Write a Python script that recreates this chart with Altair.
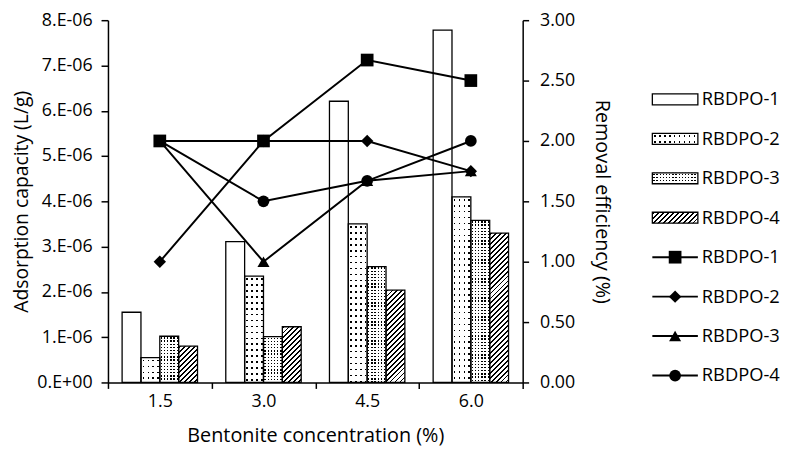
import altair as alt
import pandas as pd

FONT = "Open Sans"

# ---------------- data ----------------
concentrations = ["1.5", "3.0", "4.5", "6.0"]
series_names = ["RBDPO-1", "RBDPO-2", "RBDPO-3", "RBDPO-4"]

# adsorption capacity (L/g), bars, left axis
capacity_rbdpo1 = [1.55e-06, 3.11e-06, 6.21e-06, 7.78e-06]
capacity_rbdpo2 = [0.55e-06, 2.35e-06, 3.50e-06, 4.10e-06]
capacity_rbdpo3 = [1.02e-06, 1.01e-06, 2.56e-06, 3.58e-06]
capacity_rbdpo4 = [0.80e-06, 1.23e-06, 2.04e-06, 3.30e-06]

# removal efficiency (%), lines, right axis
efficiency_rbdpo1 = [2.00, 2.00, 2.67, 2.50]
efficiency_rbdpo2 = [1.00, 2.00, 2.00, 1.75]
efficiency_rbdpo3 = [2.00, 1.00, 1.67, 1.75]
efficiency_rbdpo4 = [2.00, 1.50, 1.67, 2.00]

left_tick_values = [0.0, 1e-06, 2e-06, 3e-06, 4e-06, 5e-06, 6e-06, 7e-06, 8e-06]
right_tick_values = [0.0, 0.5, 1.0, 1.5, 2.0, 2.5, 3.0]
legend_labels = ["RBDPO-1", "RBDPO-2", "RBDPO-3", "RBDPO-4",
                 "RBDPO-1", "RBDPO-2", "RBDPO-3", "RBDPO-4"]
legend_kinds = ["bar", "bar", "bar", "bar", "line", "line", "line", "line"]
line_draw_order = ["RBDPO-2", "RBDPO-3", "RBDPO-4", "RBDPO-1"]

# ---------------- styling / layout ----------------
marker_shapes = ["square", "diamond", "triangle-up", "circle"]
marker_sizes = [165, 140, 150, 145]
PLOT_W = 419
PLOT_H = 366
TOP = 10
Y_MAX = 8e-06
Y2_MAX = 3.0
X_OUTER = 0.75
BAR_W = PLOT_W / 4 / (4 + 2 * X_OUTER)
SWATCH_PATH = "M-1,-0.24L1,-0.24L1,0.24L-1,0.24Z"
SWATCH_SIZE = 2116
SWATCH_W = 46.0
SWATCH_H = 46.0 * 0.24
CLEAR = "rgba(255,255,255,0)"

# pattern settings: (column period, dot size, row period)
DOTS = {"RBDPO-2": (5.0, 1.7, 6.0), "RBDPO-3": (3.2, 1.35, 3.2)}
HATCH_PERIOD = 5.0
HATCH_THICK = 1.9


def stripes(length, period, thick, on, off, phase):
    stops = [{"offset": 0.0, "color": off}]
    k = 0
    while True:
        s = phase + k * period
        if s >= length:
            break
        e = s + thick
        s0 = max(s, 0.0)
        e0 = min(e, length)
        if e0 > s0:
            a = round(s0 / length, 5)
            b = round(e0 / length, 5)
            stops += [{"offset": a, "color": off}, {"offset": a, "color": on},
                      {"offset": b, "color": on}, {"offset": b, "color": off}]
        k += 1
    stops.append({"offset": 1.0, "color": off})
    return stops


def column_grad(width, period, dot):
    return {"gradient": "linear", "x1": 0, "y1": 0, "x2": 1, "y2": 0,
            "stops": stripes(width, period, dot, "black", "rgba(0,0,0,0)", (period - dot) / 2)}


def row_grad(height, period, dot):
    return {"gradient": "linear", "x1": 0, "y1": 0, "x2": 0, "y2": 1,
            "stops": stripes(height, period, dot, CLEAR, "white", (period - dot) / 2)}


def hatch_grad(width, height):
    k = (width + height) / (width ** 2 + height ** 2)
    return {"gradient": "linear", "x1": 0, "y1": 0, "x2": k * width, "y2": k * height,
            "stops": stripes(width + height, HATCH_PERIOD, HATCH_THICK, "black", "white", 1.0)}


# ---------------- tables ----------------
caps = [capacity_rbdpo1, capacity_rbdpo2, capacity_rbdpo3, capacity_rbdpo4]
effs = dict(zip(series_names, [efficiency_rbdpo1, efficiency_rbdpo2,
                               efficiency_rbdpo3, efficiency_rbdpo4]))
bars_df = pd.DataFrame([{"conc": c, "series": s, "cap": v}
                        for s, vals in zip(series_names, caps)
                        for c, v in zip(concentrations, vals)])
lines_df = pd.DataFrame([{"conc": c, "series": s, "eff": v}
                         for s in line_draw_order
                         for c, v in zip(concentrations, effs[s])])
legend_df = pd.DataFrame({"pos": list(range(len(legend_labels))),
                          "label": legend_labels, "kind": legend_kinds,
                          "series": legend_labels})

# ---------------- encodings ----------------
x_enc = alt.X("conc:N", sort=concentrations,
              scale=alt.Scale(domain=concentrations, paddingInner=0, paddingOuter=0),
              axis=alt.Axis(title="Bentonite concentration (%)", labelAngle=0,
                            tickBand="extent", tickSize=6, labelPadding=4,
                            titlePadding=16, labelFontSize=18, titleFontSize=20))
xo_enc = alt.XOffset("series:N", sort=series_names,
                     scale=alt.Scale(domain=series_names, paddingInner=0, paddingOuter=X_OUTER))
y_enc = alt.Y("cap:Q", scale=alt.Scale(domain=[0, Y_MAX], nice=False),
              axis=alt.Axis(orient="left", values=left_tick_values, title="Adsorption capacity (L/g)",
                            labelExpr="datum.value == 0 ? '0.E+00' : format(datum.value * 1000000, '.0f') + '.E-06'",
                            tickSize=7, labelPadding=9, titlePadding=5,
                            labelFontSize=18, titleFontSize=19.5))
y2_enc = alt.Y("eff:Q", scale=alt.Scale(domain=[0, Y2_MAX], nice=False),
               axis=alt.Axis(orient="right", values=right_tick_values, format=".2f",
                             title="Removal efficiency (%)", titleAngle=90,
                             tickSize=6, labelPadding=11, titlePadding=17,
                             labelFontSize=18, titleFontSize=20))
shape_enc = alt.Shape("series:N", scale=alt.Scale(domain=series_names, range=marker_shapes), legend=None)
size_enc = alt.Size("series:N", scale=alt.Scale(domain=series_names, range=marker_sizes), legend=None)


def bar_layer(data_filter, **mark):
    ch = alt.Chart(bars_df)
    if data_filter is not None:
        ch = ch.transform_filter(data_filter)
    return ch.mark_bar(**mark).encode(x=x_enc, xOffset=xo_enc, y=y_enc)


bar_layers = [bar_layer(None, fill="white")]
for s, (cp, dot, rp) in DOTS.items():
    bar_layers.append(bar_layer(alt.datum.series == s, fill=column_grad(BAR_W, cp, dot)))
    vals = caps[series_names.index(s)]
    for c, v in zip(concentrations, vals):
        h = v / Y_MAX * PLOT_H
        bar_layers.append(bar_layer((alt.datum.series == s) & (alt.datum.conc == c),
                                    fill=row_grad(h, rp, dot)))
for c, v in zip(concentrations, capacity_rbdpo4):
    h = v / Y_MAX * PLOT_H
    bar_layers.append(bar_layer((alt.datum.series == "RBDPO-4") & (alt.datum.conc == c),
                                fill=hatch_grad(BAR_W, h)))
bar_layers.append(bar_layer(None, fillOpacity=0, stroke="black", strokeWidth=1.3))
bars_group = alt.layer(*bar_layers)

lines = alt.Chart(lines_df).mark_line(color="black", strokeWidth=2).encode(
    x=x_enc, y=y2_enc, detail="series:N")
points = alt.Chart(lines_df).mark_point(filled=True, opacity=1, color="black").encode(
    x=x_enc, y=y2_enc, shape=shape_enc, size=size_enc)
lines_group = alt.layer(lines, points)

# ---------------- legend (drawn as marks) ----------------
ly = alt.Y("pos:Q", scale=alt.Scale(domain=[0, 7], range=[98 - 8 - TOP, 377 - 8 - TOP]), axis=None)
LX = 573


def swatch(data_filter, **mark):
    base = dict(shape=SWATCH_PATH, size=SWATCH_SIZE, opacity=1)
    base.update(mark)
    return (alt.Chart(legend_df).transform_filter(data_filter)
            .mark_point(**base).encode(x=alt.value(LX), y=ly))


is_bar = alt.datum.kind == "bar"
legend_layers = [swatch(is_bar, filled=True, fill="white", strokeOpacity=0)]
for s, (cp, dot, rp) in DOTS.items():
    f = is_bar & (alt.datum.series == s)
    legend_layers.append(swatch(f, filled=True, fill=column_grad(SWATCH_W, cp, dot), strokeOpacity=0))
    legend_layers.append(swatch(f, filled=True, fill=row_grad(SWATCH_H, rp, dot), strokeOpacity=0))
legend_layers.append(swatch(is_bar & (alt.datum.series == "RBDPO-4"), filled=True,
                            fill=hatch_grad(SWATCH_W, SWATCH_H), strokeOpacity=0))
legend_layers.append(swatch(is_bar, filled=False, stroke="black", strokeWidth=1.3))
is_line = alt.datum.kind == "line"
legend_layers.append(alt.Chart(legend_df).transform_filter(is_line).mark_rule(
    color="black", strokeWidth=2).encode(x=alt.value(LX - 23), x2=alt.value(LX + 23), y=ly))
legend_layers.append(alt.Chart(legend_df).transform_filter(is_line).mark_point(
    filled=True, opacity=1, color="black").encode(
    x=alt.value(LX), y=ly, shape=shape_enc, size=size_enc))
legend_layers.append(alt.Chart(legend_df).mark_text(
    align="left", baseline="middle", fontSize=18.5, font=FONT, color="black").encode(
    x=alt.value(LX + 27), y=ly, text="label:N"))
legend_group = alt.layer(*legend_layers)

chart = (
    alt.layer(bars_group, lines_group, legend_group)
    .resolve_scale(y="independent")
    .properties(width=PLOT_W, height=PLOT_H,
                autosize=alt.AutoSizeParams(type="none"),
                padding={"left": 101, "top": TOP, "right": 262, "bottom": 74},
                background="white")
    .configure_view(strokeWidth=0)
    .configure_axis(domainColor="black", tickColor="black", labelColor="black",
                    titleColor="black", labelFont=FONT, titleFont=FONT,
                    titleFontWeight="normal", grid=False, domainWidth=1.5, tickWidth=1.5)
    .configure_text(font=FONT)
)

chart.save("out.html", embed_options={"renderer": "svg", "actions": False})
